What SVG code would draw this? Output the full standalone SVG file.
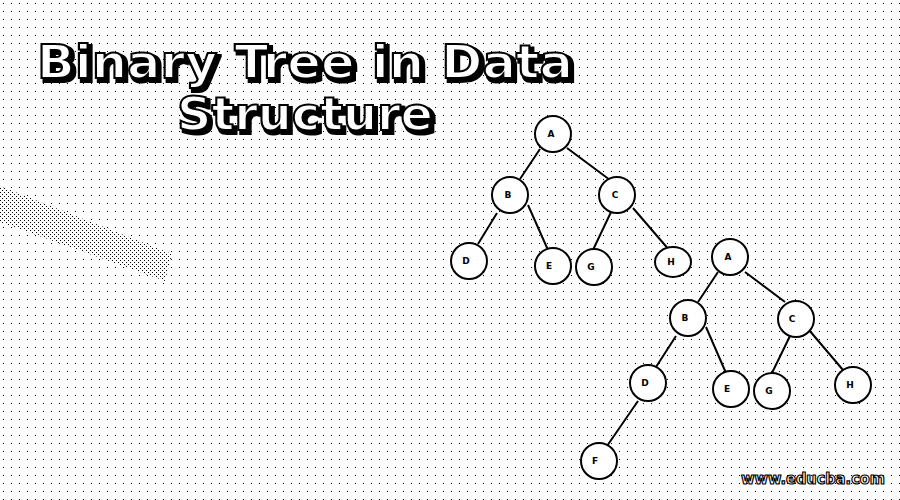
<svg xmlns="http://www.w3.org/2000/svg" width="900" height="500" viewBox="0 0 900 500">
<defs>
<pattern id="dots" width="8" height="8" patternUnits="userSpaceOnUse">
<rect x="3" y="3" width="1" height="1" fill="#000"/>
</pattern>
<pattern id="dense" width="4" height="4" patternUnits="userSpaceOnUse">
<rect x="0" y="0" width="1" height="1" fill="#000"/>
<rect x="2" y="2" width="1" height="1" fill="#000"/>
</pattern>
<filter id="shadow" x="-5%" y="-20%" width="110%" height="150%">
<feMorphology in="SourceAlpha" operator="dilate" radius="1" result="d"/>
<feOffset in="d" dx="2.5" dy="2.5" result="o"/>
<feMerge><feMergeNode in="o"/><feMergeNode in="SourceGraphic"/></feMerge>
</filter>
<style>
.node circle,.node ellipse{fill:#fff;stroke:#000;stroke-width:2}
.node text{font-family:"DejaVu Sans",sans-serif;font-size:9px;font-weight:bold;text-anchor:middle;fill:#000}
.edges line{stroke:#000;stroke-width:2}
.title{font-family:"DejaVu Sans",sans-serif;font-weight:bold;font-size:46px;fill:#fff;stroke:#000;stroke-width:2;filter:url(#shadow)}
.wm{font-family:"DejaVu Sans",sans-serif;font-weight:bold;font-size:15px;fill:#fff;stroke:#000;stroke-width:1.2}
</style>
</defs>
<rect width="900" height="500" fill="#fff"/>
<rect width="900" height="500" fill="url(#dots)"/>
<polygon points="0,186 172,254 165,281 0,222" fill="#fff"/>
<polygon points="0,186 172,254 165,281 0,222" fill="url(#dense)"/>

<g id="title">
<text class="title" x="37" y="78" textLength="536" lengthAdjust="spacingAndGlyphs">Binary Tree in Data</text>
<text class="title" x="177" y="130" textLength="256" lengthAdjust="spacingAndGlyphs">Structure</text>
</g>

<g id="edges" class="edges">
<line x1="540" y1="149" x2="520" y2="179"/>
<line x1="567" y1="148" x2="610" y2="180"/>
<line x1="497" y1="213" x2="478" y2="244"/>
<line x1="528" y1="205" x2="548" y2="250"/>
<line x1="612" y1="210" x2="592" y2="252"/>
<line x1="633" y1="208" x2="670" y2="251"/>
<line x1="718" y1="272" x2="698" y2="302"/>
<line x1="745" y1="272" x2="785" y2="302"/>
<line x1="676" y1="336" x2="656" y2="367"/>
<line x1="706" y1="327" x2="726" y2="373"/>
<line x1="790" y1="336" x2="770" y2="377"/>
<line x1="809" y1="330" x2="843" y2="370"/>
<line x1="638" y1="401" x2="607" y2="446"/>
</g>

<g id="t1-A" class="node"><circle cx="553" cy="134" r="18"/><text x="551" y="137">A</text></g>
<g id="t1-B" class="node"><circle cx="510" cy="195" r="18"/><text x="508" y="198">B</text></g>
<g id="t1-C" class="node"><circle cx="617" cy="195" r="18"/><text x="615" y="198">C</text></g>
<g id="t1-D" class="node"><circle cx="469" cy="261" r="18"/><text x="466" y="264">D</text></g>
<g id="t1-E" class="node"><circle cx="553" cy="266" r="18"/><text x="549" y="269">E</text></g>
<g id="t1-G" class="node"><circle cx="594" cy="267" r="18"/><text x="591" y="270">G</text></g>
<g id="t1-H" class="node"><ellipse cx="673" cy="262" rx="18" ry="15"/><text x="671" y="265">H</text></g>

<g id="t2-A" class="node"><circle cx="730" cy="257" r="18"/><text x="728" y="260">A</text></g>
<g id="t2-B" class="node"><circle cx="688" cy="318" r="18"/><text x="685" y="321">B</text></g>
<g id="t2-C" class="node"><circle cx="796" cy="319" r="18"/><text x="792" y="322">C</text></g>
<g id="t2-D" class="node"><circle cx="648" cy="383" r="18"/><text x="645" y="386">D</text></g>
<g id="t2-E" class="node"><circle cx="731" cy="389" r="18"/><text x="727" y="392">E</text></g>
<g id="t2-G" class="node"><circle cx="772" cy="391" r="18"/><text x="769" y="394">G</text></g>
<g id="t2-H" class="node"><circle cx="853" cy="385" r="18"/><text x="850" y="388">H</text></g>
<g id="t2-F" class="node"><circle cx="599" cy="461" r="18"/><text x="595" y="464">F</text></g>

<text class="wm" x="741" y="484" textLength="144" lengthAdjust="spacingAndGlyphs">www.educba.com</text>
</svg>
